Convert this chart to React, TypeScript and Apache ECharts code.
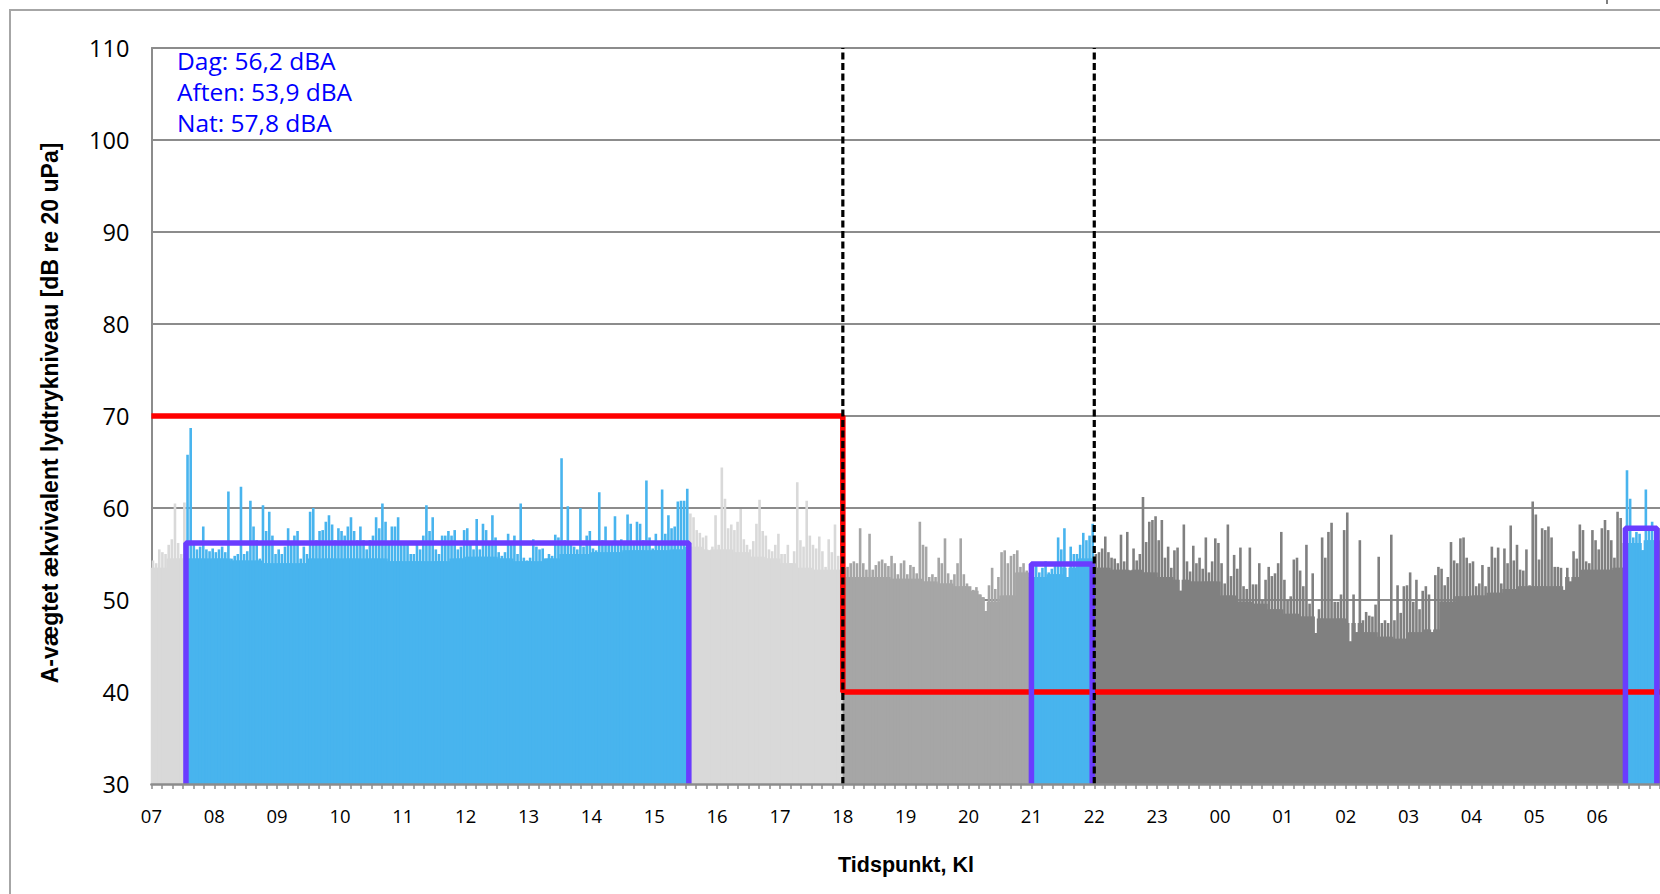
import React, { useEffect, useRef } from "react";
import * as echarts from "echarts";

// Hour tick labels (x axis runs from 07:00 to 07:00 next day)
const hourLabels = [
  "07", "08", "09", "10", "11", "12", "13", "14", "15", "16", "17", "18",
  "19", "20", "21", "22", "23", "00", "01", "02", "03", "04", "05", "06",
];

// Resolution of the level series (minutes per value)
const binMinutes = 3;
const baseMinutes = 15;

// Peak A-weighted levels per 3 minutes, 07:00-18:00 (dag)
const dayPeaks = [
  54.3, 54.0, 55.5, 55.2, 55.0, 56.0, 56.6, 60.5, 56.2, 55.0,
  60.6, 65.8, 68.7, 56.0, 55.5, 55.8, 58.0, 55.5, 55.3, 55.6,
  55.2, 55.5, 55.8, 55.2, 61.8, 54.5, 54.8, 55.0, 62.3, 55.0,
  55.3, 60.8, 58.0, 56.5, 54.5, 60.3, 57.5, 59.6, 57.0, 55.0,
  55.5, 55.0, 55.8, 57.8, 56.2, 57.0, 57.5, 54.5, 55.8, 55.0,
  59.6, 60.0, 56.5, 57.5, 57.6, 58.5, 59.2, 58.2, 56.5, 57.8,
  57.5, 57.0, 58.0, 59.0, 57.5, 56.5, 58.0, 56.5, 55.5, 56.5,
  57.0, 59.0, 57.8, 60.5, 58.5, 56.0, 58.0, 58.0, 59.0, 56.0,
  56.0, 56.0, 55.0, 55.0, 56.3, 55.5, 57.0, 60.3, 57.5, 59.0,
  55.5, 55.0, 57.0, 57.0, 57.5, 57.0, 57.6, 55.5, 55.8, 57.6,
  57.8, 56.4, 55.5, 58.8, 55.5, 58.3, 57.6, 56.4, 59.2, 56.8,
  55.2, 54.8, 55.2, 57.2, 56.2, 57.0, 55.0, 60.5, 54.6, 54.3,
  54.6, 56.6, 55.8, 55.5, 55.6, 54.5, 55.0, 54.8, 57.1, 56.8,
  65.4, 56.5, 60.2, 56.0, 55.8, 55.5, 60.0, 55.8, 57.0, 57.5,
  55.6, 55.4, 61.7, 56.5, 58.0, 56.4, 56.2, 59.1, 56.4, 56.6,
  56.3, 59.3, 58.3, 56.0, 58.5, 58.3, 56.5, 63.0, 56.8, 55.6,
  57.2, 56.4, 62.0, 57.2, 59.2, 57.8, 58.0, 60.7, 60.8, 60.8,
  62.1, 59.4, 59.0, 57.6, 57.3, 56.8, 57.0, 55.4, 55.8, 59.2,
  56.0, 64.4, 61.0, 57.8, 58.2, 57.6, 58.5, 59.9, 56.6, 56.0,
  55.5, 56.4, 58.3, 60.9, 57.5, 57.0, 55.5, 55.3, 56.0, 57.2,
  55.0, 55.0, 56.0, 54.0, 55.3, 62.8, 56.5, 55.8, 60.8, 57.0,
  56.0, 55.6, 56.9, 55.3, 53.6, 56.6, 55.2, 58.2, 54.8, 54.0,
];

// Peak levels per 3 minutes, 18:00-22:00 (aften)
const eveningPeaks = [
  53.5, 53.6, 54.0, 54.2, 54.0, 57.8, 54.0, 53.3, 57.2, 53.3,
  53.8, 54.2, 54.4, 54.0, 53.7, 54.8, 54.0, 52.8, 54.0, 54.3,
  52.8, 53.8, 53.6, 52.9, 58.5, 56.0, 55.8, 52.5, 52.8, 52.5,
  54.6, 54.0, 56.7, 52.9, 52.2, 52.8, 54.0, 56.7, 52.8, 51.8,
  51.5, 51.1, 51.4, 50.6, 50.3, 48.8, 51.6, 53.5, 51.2, 52.5,
  55.2, 55.4, 54.0, 54.8, 55.0, 55.4, 53.6, 54.0, 53.2, 52.5,
  53.6, 53.8, 53.0, 53.5, 54.2, 53.0, 53.4, 53.8, 56.8, 55.5,
  57.8, 52.5, 55.8, 55.0, 55.0, 56.0, 57.3, 56.5, 57.0, 58.3,
];

// Peak levels per 3 minutes, 22:00-07:00 (nat)
const nightPeaks = [
  55.0, 55.2, 55.6, 56.9, 55.2, 54.6, 54.5, 54.0, 57.1, 54.2,
  57.4, 53.2, 55.6, 54.3, 55.0, 61.2, 56.3, 58.5, 58.7, 59.1,
  56.5, 58.7, 54.6, 55.8, 53.5, 55.4, 55.7, 51.0, 58.2, 54.2,
  53.1, 55.9, 54.0, 54.6, 53.4, 56.8, 53.0, 54.2, 56.7, 56.2,
  54.0, 51.8, 58.2, 52.6, 54.9, 53.4, 55.7, 51.5, 51.2, 55.7,
  51.7, 51.7, 54.0, 50.0, 52.2, 53.6, 52.6, 52.9, 54.0, 57.4,
  52.2, 50.0, 50.4, 54.4, 54.6, 53.2, 51.5, 56.0, 49.6, 52.9,
  46.4, 49.0, 56.8, 54.6, 57.4, 58.4, 49.8, 49.8, 50.6, 57.6,
  59.5, 45.5, 50.6, 46.5, 56.5, 47.8, 48.7, 48.3, 48.2, 49.5,
  54.7, 47.5, 47.8, 47.5, 57.1, 47.8, 51.6, 48.6, 51.5, 51.6,
  53.0, 49.8, 52.2, 49.0, 51.0, 51.5, 50.6, 46.5, 52.7, 53.6,
  53.4, 51.6, 52.5, 56.3, 54.3, 54.0, 56.7, 56.8, 54.6, 54.0,
  54.2, 51.5, 51.8, 53.8, 51.5, 53.6, 55.8, 54.6, 55.7, 51.8,
  55.6, 54.0, 58.1, 54.3, 56.0, 53.3, 53.2, 55.5, 51.6, 60.7,
  59.3, 54.4, 57.8, 57.6, 58.0, 56.8, 53.6, 53.6, 53.5, 51.1,
  53.5, 52.0, 55.3, 54.5, 58.2, 57.6, 54.2, 54.0, 57.6, 56.5,
  55.5, 57.8, 58.7, 57.6, 56.5, 54.6, 59.6, 58.9, 56.2, 64.1,
  61.0, 56.8, 57.4, 57.2, 55.4, 62.0, 58.0, 58.5, 57.6, 57.8,
];

// Underlying (background) level per 15 minutes
const dayBase = [
  53.5, 54.5, 54.5, 54.5, 54.5, 54.3, 54.3, 54.0, 54.0, 54.0,
  54.5, 54.5, 54.5, 54.5, 54.5, 54.2, 54.2, 54.2, 54.2, 54.5,
  54.7, 54.7, 54.5, 54.2, 54.2, 54.5, 55.0, 55.0, 55.2, 55.2,
  55.4, 55.4, 55.4, 55.5, 55.8, 55.5, 55.5, 55.2, 54.7, 54.5,
  54.0, 53.5, 53.3, 53.3,
];
const eveningBase = [
  52.5, 52.5, 52.5, 52.3, 52.3, 52.0, 51.8, 51.5, 51.0, 49.8,
  50.5, 53.0, 52.5, 52.8, 53.5, 54.5,
];
const nightBase = [
  53.5, 53.3, 53.3, 53.0, 52.5, 52.2, 52.0, 52.0, 50.5, 49.8,
  49.6, 49.0, 48.5, 48.2, 48.0, 48.0, 47.5, 46.5, 46.0, 45.8,
  46.5, 46.8, 49.8, 50.4, 50.5, 50.8, 51.2, 51.5, 51.5, 51.5,
  52.5, 53.3, 53.3, 53.5, 56.2, 56.5,
];

// Evaluation periods (minutes after 07:00) and their Leq
const periodNames = ["Dag", "Aften", "Nat"];
const periodLeq = [56.2, 53.9, 57.8];
const periodFrom = [33, 840, 1407];
const periodTo = [513, 898, 1437];

// Period boundaries (minutes after 07:00): 18:00 and 22:00
const boundaryMinutes = [660, 900];
// Noise limit (dB) before / after 18:00
const limitLevels = [70, 40];

const LIGHT = "#D9D9D9";
const MID = "#A6A6A6";
const DARK = "#808080";
const BLUE = "#48B4EE";
const PURPLE = "#6A3CFF";
const RED = "#FF0000";
const AXIS_GRAY = "#8C8C8C";

export default function App() {
  const ref = useRef<HTMLDivElement>(null);

  useEffect(() => {
    if (!ref.current) return;
    const chart = echarts.init(ref.current, null, { renderer: "svg" });

    const peaks = [...dayPeaks, ...eveningPeaks, ...nightPeaks];
    const bases = [...dayBase, ...eveningBase, ...nightBase];

    const colorFor = (m: number) => {
      for (let k = 0; k < periodFrom.length; k++) {
        if (m >= periodFrom[k] && m < periodTo[k]) return BLUE;
      }
      if (m < boundaryMinutes[0]) return LIGHT;
      if (m < boundaryMinutes[1]) return MID;
      return DARK;
    };

    const baseData = peaks.map((p, i) => {
      const m = i * binMinutes;
      const b = bases[Math.floor(m / baseMinutes)];
      return {
        value: [(m + binMinutes / 2) / 60, Math.min(b, p)],
        itemStyle: { color: colorFor(m) },
      };
    });
    const peakData = peaks.map((p, i) => {
      const m = i * binMinutes;
      return {
        value: [(m + binMinutes / 2) / 60, p],
        itemStyle: { color: colorFor(m) },
      };
    });

    const endH = hourLabels.length;
    const b0 = boundaryMinutes[0] / 60;
    const limitData = [
      [0, limitLevels[0]],
      [b0, limitLevels[0]],
      [b0, limitLevels[1]],
      [endH, limitLevels[1]],
    ];

    const yMin = 30;
    const yMax = 110;

    const boxSeries = periodLeq.map((leq, k) => ({
      type: "line",
      xAxisIndex: 0,
      z: 4,
      symbol: "none",
      silent: true,
      lineStyle: { color: PURPLE, width: 5.5 },
      data: [
        [periodFrom[k] / 60, yMin],
        [periodFrom[k] / 60, leq],
        [periodTo[k] / 60, leq],
        [periodTo[k] / 60, yMin],
      ],
    }));

    const dashSeries = boundaryMinutes.map((bm) => ({
      type: "line",
      xAxisIndex: 0,
      z: 5,
      symbol: "none",
      silent: true,
      lineStyle: { color: "#000000", width: 3.2, type: [7, 3.5] },
      data: [
        [bm / 60, yMin],
        [bm / 60, yMax],
      ],
    }));

    const fmt = (v: number) => v.toFixed(1).replace(".", ",");
    const textLines = periodNames.map((n, k) => ({
      type: "text",
      x: 177,
      y: 60 + k * 31.3,
      z: 10,
      style: {
        text: `${n}: ${fmt(periodLeq[k])} dBA`,
        fill: "#0000FF",
        fontSize: 24.5,
        fontFamily: "Open Sans",
        align: "left",
        verticalAlign: "middle",
      },
    }));

    const option = {
      animation: false,
      backgroundColor: "#FFFFFF",
      grid: { left: 151.4, right: -3.4, top: 48, bottom: 110, containLabel: false },
      xAxis: [
        {
          type: "value",
          min: 0,
          max: endH,
          interval: 1,
          position: "bottom",
          z: 6,
          axisLine: { show: true, onZero: false, lineStyle: { color: AXIS_GRAY, width: 2.5 } },
          axisTick: { show: true, length: 5, lineStyle: { color: AXIS_GRAY, width: 1.5 } },
          minorTick: { show: true, splitNumber: 6, length: 5, lineStyle: { color: AXIS_GRAY, width: 1.5 } },
          splitLine: { show: false },
          minorSplitLine: { show: false },
          axisLabel: {
            formatter: (v: number) => hourLabels[v] ?? "",
            fontFamily: "Open Sans",
            fontSize: 18.5,
            color: "#000000",
            margin: 22,
            showMaxLabel: false,
          },
        },
        {
          type: "value",
          min: 0,
          max: endH,
          show: false,
        },
      ],
      yAxis: {
        type: "value",
        min: yMin,
        max: yMax,
        interval: 10,
        axisLine: { show: true, lineStyle: { color: AXIS_GRAY, width: 2 } },
        axisTick: { show: true, inside: true, length: 6, lineStyle: { color: AXIS_GRAY, width: 1.5 } },
        splitLine: { show: true, lineStyle: { color: AXIS_GRAY, width: 1.8 } },
        axisLabel: {
          fontFamily: "Open Sans",
          fontSize: 23.5,
          color: "#000000",
          margin: 22,
        },
      },
      graphic: [
        {
          type: "rect",
          shape: { x: 10, y: 10, width: 1700, height: 1000 },
          style: { fill: "none", stroke: "#A6A6A6", lineWidth: 2 },
          silent: true,
        },
        {
          type: "line",
          shape: { x1: 1607, y1: 0, x2: 1607, y2: 4 },
          style: { stroke: "#7F7F7F", lineWidth: 2 },
          silent: true,
        },
        ...textLines,
        {
          type: "text",
          x: 50,
          y: 413,
          rotation: Math.PI / 2,
          style: {
            text: "A-vægtet ækvivalent lydtrykniveau [dB re 20 uPa]",
            fill: "#000000",
            fontSize: 23,
            fontWeight: "bold",
            fontFamily: "Liberation Sans",
            align: "center",
            verticalAlign: "middle",
          },
        },
        {
          type: "text",
          x: 906,
          y: 865,
          style: {
            text: "Tidspunkt, Kl",
            fill: "#000000",
            fontSize: 21.5,
            fontWeight: "bold",
            fontFamily: "Liberation Sans",
            align: "center",
            verticalAlign: "middle",
          },
        },
      ],
      series: [
        {
          type: "bar",
          name: "base",
          xAxisIndex: 0,
          barWidth: 4.4,
          z: 2,
          silent: true,
          data: baseData,
        },
        {
          type: "bar",
          name: "peak",
          xAxisIndex: 1,
          barWidth: 2.6,
          z: 2,
          silent: true,
          data: peakData,
        },
        {
          type: "line",
          xAxisIndex: 0,
          z: 3,
          symbol: "none",
          silent: true,
          lineStyle: { color: RED, width: 5.5 },
          data: limitData,
        },
        ...boxSeries,
        ...dashSeries,
      ],
    };

    chart.setOption(option as any);
    return () => {
      chart.dispose();
    };
  }, []);

  return (
    <div
      ref={ref}
      style={{ position: "fixed", left: 0, top: 0, width: 1660, height: 894, background: "#FFFFFF" }}
    />
  );
}
